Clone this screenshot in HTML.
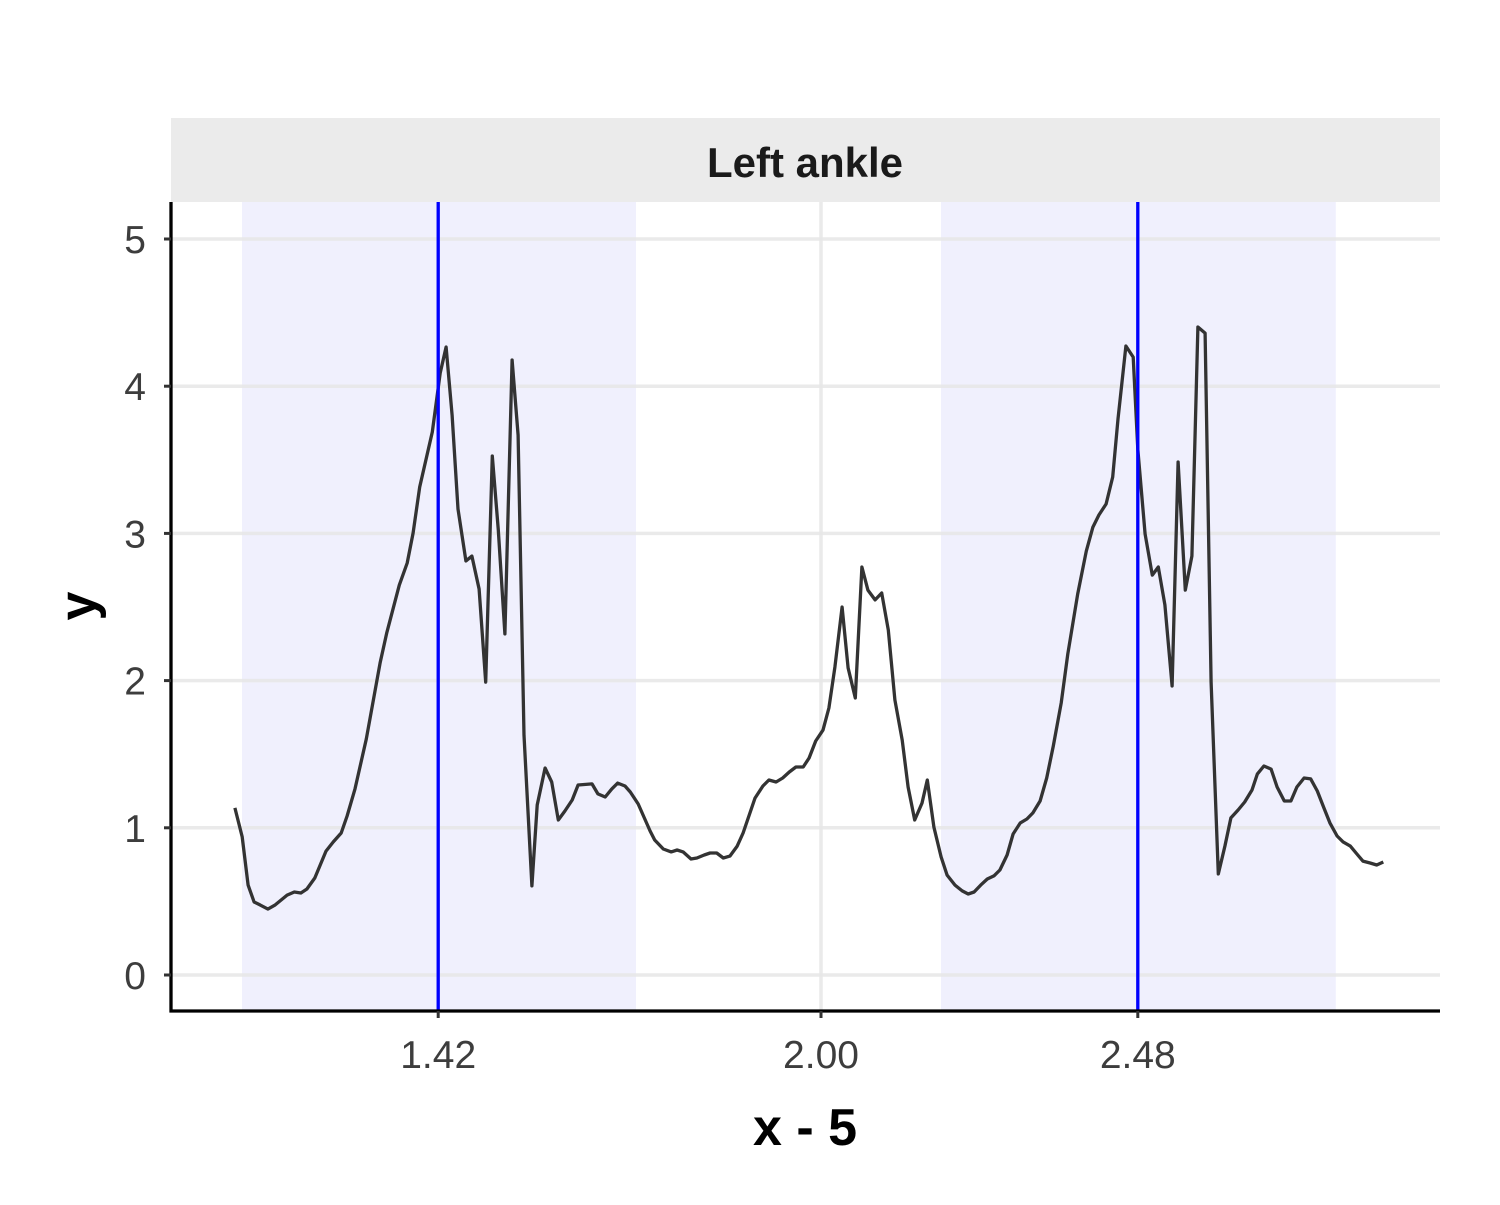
<!DOCTYPE html>
<html><head><meta charset="utf-8"><style>
body{margin:0;background:#fff}
svg text{font-family:"Liberation Sans",Arial,sans-serif}
</style></head><body>
<svg width="1500" height="1200" viewBox="0 0 1500 1200" id="chart">
<rect x="0" y="0" width="1500" height="1200" fill="#fff"/>
<rect x="171" y="118" width="1269" height="84" fill="#ebebeb"/>
<text x="805" y="177" text-anchor="middle" font-size="42" font-weight="bold" fill="#1a1a1a">Left ankle</text>
<g id="bands"></g><g id="grid"></g><g id="series"></g><g id="vlines"></g><g id="axes"></g>
<text x="805" y="1145" text-anchor="middle" font-size="52" font-weight="bold" fill="#000">x - 5</text>
<text transform="translate(95,606) rotate(-90)" text-anchor="middle" font-size="52" font-weight="bold" fill="#000">y</text>
</svg>
<script>
const xTicks = [1.42, 2.00, 2.48];
const xTickLabels = ["1.42", "2.00", "2.48"];
const yTicks = [0, 1, 2, 3, 4, 5];
const yTickLabels = ["0", "1", "2", "3", "4", "5"];
const bandStarts = [1.1227, 2.1818];
const bandEnds = [1.7197, 2.780];
const vlineX = [1.42, 2.48];
const seriesX = [1.112,1.123,1.132,1.141,1.150,1.162,1.173,1.191,1.202,1.212,1.221,1.233,1.250,1.261,1.273,1.282,1.294,1.311,1.332,1.342,1.361,1.373,1.382,1.392,1.411,1.423,1.432,1.441,1.450,1.462,1.471,1.482,1.492,1.502,1.511,1.521,1.532,1.541,1.550,1.562,1.570,1.582,1.592,1.602,1.612,1.623,1.632,1.653,1.662,1.673,1.683,1.692,1.703,1.711,1.723,1.741,
1.748,1.761,1.773,1.782,1.791,1.803,1.812,1.823,1.832,1.842,1.852,1.862,1.873,1.882,1.900,1.912,1.921,1.932,1.942,1.952,1.962,1.973,1.982,1.992,2.003,2.012,2.021,2.032,2.041,2.052,2.062,2.071,2.082,2.092,2.102,2.112,2.123,2.132,2.142,2.153,2.161,2.171,2.182,2.191,2.203,2.214,2.223,2.232,2.242,2.252,2.262,2.271,
2.282,2.291,2.302,2.312,2.321,2.332,2.342,2.352,2.364,2.374,2.389,2.402,2.412,2.421,2.432,2.442,2.450,2.462,2.473,2.480,2.491,2.502,2.511,2.521,2.532,2.541,2.552,2.562,2.571,2.582,2.591,2.602,2.612,2.621,2.632,2.642,2.653,2.661,2.671,2.682,2.691,2.702,2.712,2.721,2.732,2.742,2.752,2.762,2.771,2.782,2.791,2.802,2.812,2.821,2.832,2.842,2.852];
const seriesY = [1.135,0.938,0.611,0.496,0.476,0.448,0.476,0.543,0.564,0.557,0.584,0.659,0.842,0.904,0.965,1.080,1.264,1.603,2.120,2.323,2.649,2.799,3.003,3.315,3.689,4.090,4.266,3.804,3.166,2.813,2.846,2.622,1.990,3.526,3.023,2.317,4.178,3.668,1.630,0.605,1.155,1.406,1.311,1.053,1.114,1.189,1.291,1.298,1.230,1.209,1.264,1.304,1.284,1.243,1.162,0.978,
0.917,0.856,0.836,0.849,0.836,0.788,0.795,0.815,0.829,0.829,0.795,0.808,0.876,0.965,1.202,1.284,1.325,1.311,1.338,1.379,1.413,1.413,1.474,1.590,1.664,1.814,2.092,2.500,2.086,1.882,2.772,2.615,2.548,2.595,2.344,1.868,1.596,1.277,1.053,1.168,1.325,1.005,0.802,0.679,0.611,0.571,0.550,0.564,0.611,0.652,0.673,0.713,
0.815,0.958,1.033,1.060,1.101,1.182,1.338,1.556,1.848,2.181,2.588,2.880,3.043,3.125,3.200,3.383,3.777,4.273,4.198,3.573,2.996,2.717,2.772,2.514,1.963,3.485,2.615,2.846,4.402,4.361,1.990,0.686,0.876,1.067,1.121,1.175,1.257,1.365,1.420,1.399,1.277,1.182,1.182,1.277,1.338,1.332,1.250,1.135,1.033,0.944,0.904,0.876,0.822,0.774,0.761,0.747,0.768];

const NS = "http://www.w3.org/2000/svg";
const PL = 171, PR = 1440, PT = 202, PB = 1011;
function sx(v){ return 821 + (v - 2) * 660; }
function sy(v){ return 975 - v * 147.2; }
function mk(tag, attrs, parent){
  const e = document.createElementNS(NS, tag);
  for (const k in attrs) e.setAttribute(k, attrs[k]);
  document.getElementById(parent).appendChild(e);
  return e;
}
for (let i = 0; i < bandStarts.length; i++) {
  const r = mk("rect", {x: sx(bandStarts[i]), y: PT, width: sx(bandEnds[i]) - sx(bandStarts[i]), height: PB - PT, fill: "#f0f0fd"}, "bands");
  
  
}
for (const t of yTicks) {
  const l = mk("line", {x1: PL, x2: PR, y1: sy(t), y2: sy(t), stroke: "#e6e6e6", "stroke-width": 3.5, "stroke-opacity": 0.85}, "grid");
  
  
}
for (const t of xTicks) {
  const l = mk("line", {x1: sx(t), x2: sx(t), y1: PT, y2: PB, stroke: "#e6e6e6", "stroke-width": 3.5, "stroke-opacity": 0.85}, "grid");
  
  
}
let d = "";
for (let i = 0; i < seriesX.length; i++) d += (i ? "L" : "M") + sx(seriesX[i]).toFixed(1) + "," + sy(seriesY[i]).toFixed(1);
const path = mk("path", {d: d, fill: "none", stroke: "#333333", "stroke-width": 3.3, "stroke-linejoin": "round"}, "series");


for (const v of vlineX) {
  const l = mk("line", {x1: sx(v), x2: sx(v), y1: PT, y2: PB, stroke: "#0000ff", "stroke-width": 3.3}, "vlines");
  
  
}
const ax1 = mk("line", {x1: PL, x2: PL, y1: PT, y2: PB + 1.5, stroke: "#000", "stroke-width": 3.3}, "axes");


const ax2 = mk("line", {x1: PL - 1.5, x2: PR, y1: PB, y2: PB, stroke: "#000", "stroke-width": 3.3}, "axes");


yTicks.forEach((t, i) => {
  const tk = mk("line", {x1: PL - 7, x2: PL, y1: sy(t), y2: sy(t), stroke: "#333", "stroke-width": 3}, "axes");
  
  
  const tx = mk("text", {x: 146, y: sy(t) + 14, "text-anchor": "end", "font-size": 39, fill: "#3d3d3d"}, "axes");
  tx.textContent = yTickLabels[i];
  
  
});
xTicks.forEach((t, i) => {
  const tk = mk("line", {x1: sx(t), x2: sx(t), y1: PB, y2: PB + 7, stroke: "#333", "stroke-width": 3}, "axes");
  
  
  const tx = mk("text", {x: sx(t), y: 1068, "text-anchor": "middle", "font-size": 39, fill: "#3d3d3d"}, "axes");
  tx.textContent = xTickLabels[i];
  
  
});
</script>
</body></html>
